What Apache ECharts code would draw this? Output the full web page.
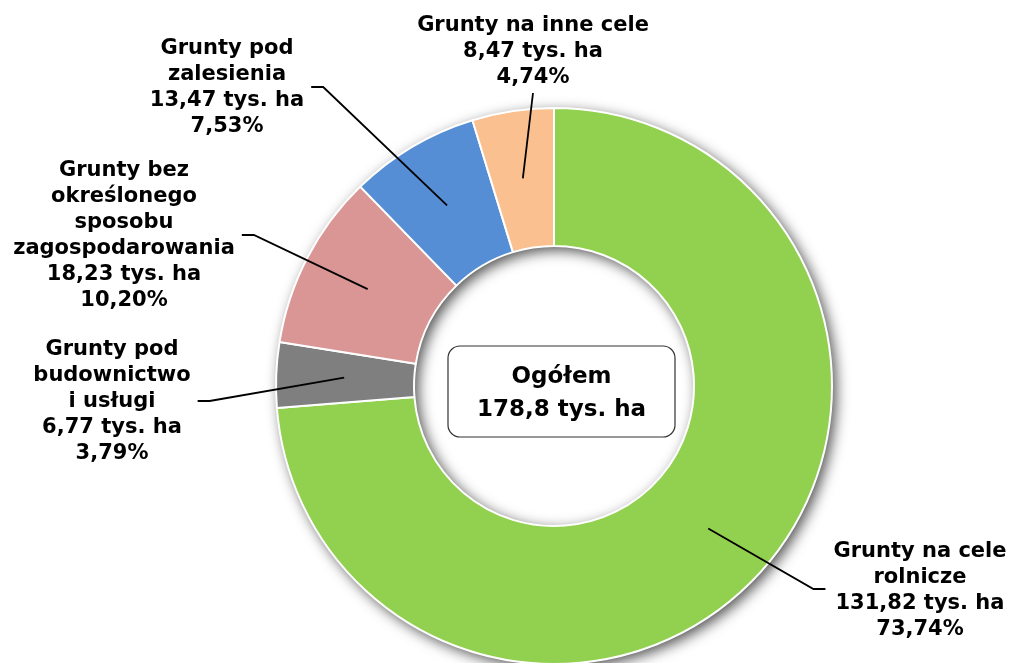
<!DOCTYPE html>
<html>
<head>
<meta charset="utf-8">
<script src="https://cdn.jsdelivr.net/npm/echarts@6/dist/echarts.min.js"></script>
<style>
  html, body { margin: 0; padding: 0; background: #fff; }
  #chart { width: 1010px; height: 663px; }
</style>
</head>
<body>
<div id="chart"></div>
<script>
// dane
const categories = [
  'Grunty na cele\nrolnicze',
  'Grunty pod\nbudownictwo\ni usługi',
  'Grunty bez\nokreślonego\nsposobu\nzagospodarowania',
  'Grunty pod\nzalesienia',
  'Grunty na inne cele'
]
const values = [131.82, 6.77, 18.23, 13.47, 8.47]
const shares = ['73,74%', '3,79%', '10,20%', '7,53%', '4,74%']
const colors = ['#92D050', '#7F7F7F', '#D99694', '#558ED5', '#FAC090']
const totalLabel = ['Ogółem', '178,8 tys. ha']

// geometria wykresu
const CX = 554, CY = 386, R0 = 140, R = 278, R_LINE = 210
// położenie etykiet: [środek x, środek y, strona]
const labelPos = [
  [920, 591, 'right'],
  [112, 402, 'left'],
  [124, 236, 'left'],
  [227, 88, 'left'],
  [533, 52, 'top']
]

const fmt = v => v.toFixed(2).replace('.', ',')

const chart = echarts.init(document.getElementById('chart'))

const labelLayout = (p) => {
  const i = p.dataIndex
  const [lx, ly, side] = labelPos[i]
  const w = p.labelRect.width, h = p.labelRect.height
  let a
  if (p.labelLinePoints && p.labelLinePoints[0]) {
    const s = p.labelLinePoints[0]
    const k = R_LINE / Math.hypot(s[0] - CX, s[1] - CY)
    a = [CX + (s[0] - CX) * k, CY + (s[1] - CY) * k]
  } else {
    const total = values.reduce((x, y) => x + y, 0)
    const cum = values.slice(0, i).reduce((x, y) => x + y, 0)
    const ang = 2 * Math.PI * (cum + values[i] / 2) / total
    a = [CX + R_LINE * Math.sin(ang), CY - R_LINE * Math.cos(ang)]
  }
  let end, elbow
  if (side === 'right') {
    end = [lx - w / 2 - 8, ly - 2]
    elbow = [end[0] - 12, end[1]]
  } else if (side === 'left') {
    end = [lx + w / 2 + 7, ly - 1]
    elbow = [end[0] + 12, end[1]]
  } else {
    end = [lx, ly + h / 2 + 2]
    elbow = end
  }
  return { x: lx, y: ly, align: 'center', verticalAlign: 'middle', labelLinePoints: [a, elbow, end] }
}

const pieData = categories.map((c, i) => ({ name: c, value: values[i], itemStyle: { color: colors[i] } }))

const option = {
  animation: false,
  backgroundColor: '#fff',
  series: [
    {
      // cień pierścienia
      type: 'pie',
      silent: true,
      z: 1,
      center: [CX, CY],
      radius: [R0, R],
      startAngle: 90,
      label: { show: false },
      labelLine: { show: false },
      itemStyle: {
        color: '#fff',
        shadowBlur: 14,
        shadowOffsetX: 4,
        shadowOffsetY: 4,
        shadowColor: 'rgba(0,0,0,0.7)'
      },
      emphasis: { disabled: true },
      data: [{ value: 1 }]
    },
    {
      type: 'pie',
      z: 2,
      center: [CX, CY],
      radius: [R0, R],
      startAngle: 90,
      clockwise: true,
      emphasis: { disabled: true },
      itemStyle: {
        borderColor: '#fff',
        borderWidth: 2
      },
      label: { show: false },
      labelLine: { show: false },
      data: pieData
    },
    {
      // warstwa etykiet nad pierścieniem
      type: 'pie',
      z: 3,
      silent: true,
      center: [CX, CY],
      radius: [R0, R],
      startAngle: 90,
      clockwise: true,
      avoidLabelOverlap: false,
      emphasis: { disabled: true },
      itemStyle: { color: 'rgba(0,0,0,0)', borderWidth: 0 },
      label: {
        show: true,
        position: 'outside',
        color: '#000',
        fontFamily: 'DejaVu Sans',
        fontWeight: 'bold',
        fontSize: 21,
        lineHeight: 26,
        align: 'center',
        formatter: p => p.name + '\n' + fmt(p.value) + ' tys. ha\n' + shares[p.dataIndex]
      },
      labelLine: {
        show: true,
        lineStyle: { color: '#000', width: 1.8 }
      },
      labelLayout: labelLayout,
      data: categories.map((c, i) => ({ name: c, value: values[i] }))
    }
  ],
  graphic: [
    {
      type: 'rect',
      z: 10,
      shape: { x: CX - 106, y: CY - 40, width: 227, height: 91, r: 12 },
      style: { fill: '#fff', stroke: '#333', lineWidth: 1.2 }
    },
    {
      type: 'text',
      z: 11,
      x: CX + 7.5,
      y: CY + 8,
      style: {
        text: totalLabel.join('\n'),
        font: 'bold 23px "DejaVu Sans"',
        fill: '#000',
        align: 'center',
        verticalAlign: 'middle',
        lineHeight: 33
      }
    }
  ]
}

chart.setOption(option)
window.addEventListener('resize', () => chart.resize())
</script>
</body>
</html>
